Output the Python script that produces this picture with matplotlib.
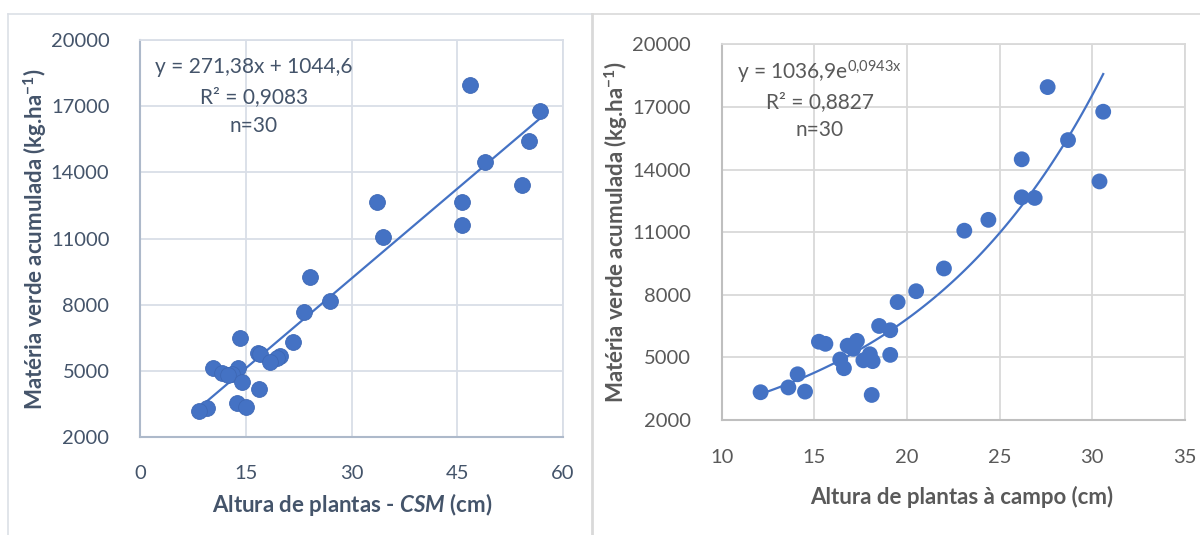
import numpy as np
import matplotlib
matplotlib.use("Agg")
import matplotlib.pyplot as plt
from matplotlib.lines import Line2D

plt.rcParams['font.family'] = ['Lato', 'DejaVu Sans']
plt.rcParams['mathtext.fontset'] = 'custom'
plt.rcParams['mathtext.rm'] = 'Lato'
plt.rcParams['mathtext.it'] = 'Lato:italic'
plt.rcParams['mathtext.bf'] = 'Lato:bold'
try:
    plt.rcParams['mathtext.bfit'] = 'Lato:italic:bold'
except KeyError:
    pass

# ---------------- data ----------------
green_matter = [17950, 16770, 15410, 14490, 13430, 12670, 12640, 11590, 11070, 9260,
                8170, 7650, 6505, 6300, 5790, 5750, 5650, 5560, 5410, 5120,
                5150, 4900, 4860, 4820, 4480, 4190, 3560, 3360, 3330, 3200]
csm_height = [46.8, 56.8, 55.2, 48.9, 54.2, 33.6, 45.7, 45.7, 34.5, 24.1,
              26.9, 23.3, 14.2, 21.7, 16.8, 17.0, 19.9, 19.5, 18.5, 10.4,
              13.9, 11.7, 13.0, 12.5, 14.5, 16.9, 13.8, 15.0, 9.5, 8.3]
field_height = [27.6, 30.6, 28.7, 26.2, 30.4, 26.2, 26.9, 24.4, 23.1, 22.0,
                20.5, 19.5, 18.5, 19.1, 17.3, 15.25, 15.6, 16.8, 17.1, 19.1,
                18.0, 16.4, 17.65, 18.15, 16.6, 14.1, 13.6, 14.5, 12.1, 18.1]

lin_slope, lin_intercept = 271.38, 1044.6
exp_a, exp_b = 1036.9, 0.0943

y_ticks = [2000, 5000, 8000, 11000, 14000, 17000, 20000]
x_ticks_csm = [0, 15, 30, 45, 60]
x_ticks_field = [10, 15, 20, 25, 30, 35]

eq_left = ["y = 271,38x + 1044,6", "R² = 0,9083", "n=30"]
eq_right = [r"y = 1036,9e$^{\mathrm{0{,}0943x}}$", "R² = 0,8827", "n=30"]

# ---------------- figure ----------------
W, H = 1200, 535
fig = plt.figure(figsize=(12, 5.35), dpi=100)

def fx(px):
    return px / W

def fy(py):
    return 1 - py / H

blue = '#4472C4'

# frames
frame_c = '#D9D9D9'
fig.add_artist(Line2D([fx(7.5), fx(7.5)], [0, fy(14)], color='#DCE0E6', lw=1.2))
fig.add_artist(Line2D([fx(7.5), fx(592)], [fy(14), fy(14)], color='#DCE0E6', lw=1.2))
fig.add_artist(Line2D([fx(592), W], [fy(14), fy(14)], color=frame_c, lw=1.2))
fig.add_artist(Line2D([fx(592), fx(592)], [0, fy(14)], color=frame_c, lw=2.0))

TICK_FS = 14.5
EQ_FS = 15
LAB_FS = 16

# ---- left panel ----
axL = fig.add_axes([fx(140), fy(437), fx(563 - 140), (437 - 40) / H])
txtL = '#44546A'
gridL = '#D9DEE7'
spineL = '#ADB9CA'
axL.set_xlim(0, 60)
axL.set_ylim(2000, 20000)
axL.set_xticks(x_ticks_csm)
axL.set_yticks(y_ticks)
axL.grid(True, color=gridL, lw=1.3)
axL.set_axisbelow(True)
for s in ['top', 'right']:
    axL.spines[s].set_color(gridL)
    axL.spines[s].set_linewidth(1.3)
for s in ['left', 'bottom']:
    axL.spines[s].set_color(spineL)
    axL.spines[s].set_linewidth(1.5)
axL.tick_params(length=0, labelsize=TICK_FS, colors=txtL)
axL.tick_params(axis='y', pad=22)
axL.tick_params(axis='x', pad=20)
xl = np.linspace(min(csm_height), max(csm_height), 50)
axL.plot(xl, lin_slope * xl + lin_intercept, color=blue, lw=1.6, zorder=2)
axL.scatter(csm_height, green_matter, s=130, color=blue, edgecolor='#3E68B5',
            linewidth=0.6, zorder=3)
for t, yy in zip(eq_left, [0.916, 0.842, 0.769]):
    axL.text(0.2695, yy, t, transform=axL.transAxes, ha='center', va='baseline',
             fontsize=EQ_FS, color=txtL)

fig.text(fx(35), fy(239), r"Matéria verde acumulada (kg.ha$^{\mathbf{-1}}$)",
         rotation=90, ha='center', va='center', fontsize=LAB_FS, fontweight='bold',
         color=txtL)
fig.text(fx(352), fy(505), r"Altura de plantas - $\mathbfit{CSM}$ (cm)",
         ha='center', va='center', fontsize=LAB_FS, fontweight='bold', color=txtL)

# ---- right panel ----
axR = fig.add_axes([fx(721.7), fy(420), fx(1184.7 - 721.7), (420 - 44.3) / H])
txtR = '#595959'
gridR = '#D9D9D9'
spineR = '#BFBFBF'
axR.set_xlim(10, 35)
axR.set_ylim(2000, 20000)
axR.set_xticks(x_ticks_field)
axR.set_yticks(y_ticks)
axR.grid(True, color=gridR, lw=1.3)
axR.set_axisbelow(True)
for s in ['top', 'right']:
    axR.spines[s].set_color(gridR)
    axR.spines[s].set_linewidth(1.3)
for s in ['left', 'bottom']:
    axR.spines[s].set_color(spineR)
    axR.spines[s].set_linewidth(1.5)
axR.tick_params(length=0, labelsize=TICK_FS, colors=txtR)
axR.tick_params(axis='y', pad=22)
axR.tick_params(axis='x', pad=21)
xr = np.linspace(min(field_height), max(field_height), 100)
axR.plot(xr, exp_a * np.exp(exp_b * xr), color=blue, lw=1.6, zorder=2)
axR.scatter(field_height, green_matter, s=130, color=blue, edgecolor='none', zorder=3)
for t, yy in zip(eq_right, [0.907, 0.831, 0.756]):
    axR.text(0.212, yy, t, transform=axR.transAxes, ha='center', va='baseline',
             fontsize=EQ_FS, color=txtR)

fig.text(fx(616), fy(232), r"Matéria verde acumulada (kg.ha$^{\mathbf{-1}}$)",
         rotation=90, ha='center', va='center', fontsize=LAB_FS, fontweight='bold',
         color=txtR)
fig.text(fx(962), fy(497), "Altura de plantas à campo (cm)",
         ha='center', va='center', fontsize=LAB_FS, fontweight='bold', color=txtR)

fig.savefig("out.png", dpi=100, facecolor='white')
